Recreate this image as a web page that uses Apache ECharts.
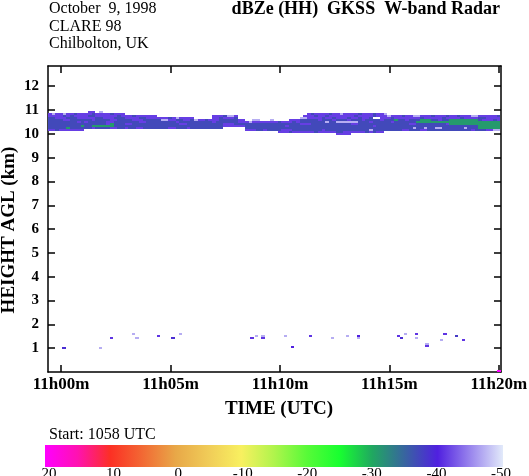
<!DOCTYPE html>
<html><head><meta charset="utf-8">
<script src="https://cdn.jsdelivr.net/npm/echarts@6/dist/echarts.min.js"></script>
<style>html,body{margin:0;padding:0;background:#fff}#c{width:529px;height:476px}</style>
</head><body><div id="c"></div>
<script>
// ---------- data ----------
const timeTicks = [0, 5, 10, 15, 20];                 // minutes after 11:00 UTC
const timeLabels = ['11h00m', '11h05m', '11h10m', '11h15m', '11h20m'];
const heightTicks = [1, 2, 3, 4, 5, 6, 7, 8, 9, 10, 11, 12];
const cbarTicks = [20, 10, 0, -10, -20, -30, -40, -50];
const cbarValues = [-50, -45, -40, -35, -30, -25, -20, -15, -10, -5, 0, 5, 10, 15, 20];
const cbarColors = ['#e2eafa', '#9985ed', '#5020e0', '#3864a0', '#20a860', '#18ff30', '#58fa38', '#b0f44c',
                    '#f8f060', '#f0cc58', '#e8a848', '#f26a34', '#fc3024', '#ff12b0', '#ff00ff'];

// cirrus band: one string per range gate (bottom to top), one char per 10-s profile
const bandStart = -0.6;     // minutes
const bandBase = 9.96;      // km
const profileStep = 1 / 6;  // minutes
const gateStep = 0.084;     // km
const codeValues = { s: -37, p: -41.5, l: -47, g: -31 };
const bandRows = [
  ".......... .......... .......... .......... .......... .......... .......... .........p ppp....... .......... .......... .......... ....",
  ".......... .......... .......... .......... .......... .......... ...pppsppp pppsppppps sppppppsps pp........ .......... .......... ....",
  "ppsppppppp .......... .......... .......... .......... ....pppssp sssspppsss ssssspssss ssssssssls ssssssspps ssppssssss sssssspsss ppll",
  "sssssgssss sspsssspps spssppssss sssppsssps ssssssss.. ....ssssss ssssssssss ssssssssss ssssssssss ssssssssss lsslssllss sssslsssgg gggg",
  "sssssssssg ssggggggss ssssssssss ssssssssss sssssssspp ppppssssss ssssspssss ssssssssss sssssssssp ssssssssss ssssssssss ssssssssgg gggg",
  "ssssssssss sssssspgss sppsssssss ssssssppss sssssssspp psssssssss sssssssssp ppssssssss sssppsssss sssssssssp pssssssssp gggggggggg gggg",
  "ssssssssps psssssppss sssssppsss ssssspssss ssssspssss ssppplpppp pppspppsps sssssslssl lllllsssps sssspsssss sggggggggg gggggggggg gggg",
  "ssssppssss sspsssspps ssspppssss sllppsspps lppspppsss sspp..ll.. .l....ppps sssspsssps sspssspsss spsssgssps ssgggsspss ggggggggsp ppsp",
  "sspppssspp pppsspppss sppppssppp pppsplpppp .....ppspp ps........ .........l lppppsppsp ppsppspps. .pppsppppp ppspppppsp pppsppppss pppp",
  "ppppspsppp psspppppps pppspppppp .......... .....pppsl lp........ .......... pppsppsppp ppppspppps ppplpppspp llpppsppps ppspppllpp ppps",
  "plpplppspp ppsppppspp p......... .......... .......... .......... .......... .psppppspp lppppsppps ppl....... .......... .......... ....",
  ".......... .pp.l..... .......... .......... .......... .......... .......... .......... .......... .......... .......... .......... ...."
];

// isolated low-level echoes
const lowT = [0.06, 1.72, 2.22, 3.23, 3.37, 4.37, 5.04, 5.37, 8.65, 8.84, 9.15, 9.15, 10.17, 10.49, 11.31, 12.32, 13.00, 13.50, 13.50, 15.33, 15.47, 15.65, 16.15, 16.15, 16.65, 16.65, 17.29, 17.47, 17.98, 18.30, 19.94];
const lowH = [0.96, 0.96, 1.40, 1.57, 1.40, 1.49, 1.40, 1.57, 1.40, 1.49, 1.49, 1.40, 1.49, 1.00, 1.49, 1.40, 1.49, 1.49, 1.40, 1.49, 1.40, 1.57, 1.57, 1.40, 1.15, 1.07, 1.32, 1.57, 1.49, 1.32, 0.00];
const lowV = [-39, -47, -41, -47, -47, -41, -39, -47, -41, -47, -47, -41, -47, -40, -41, -47, -47, -40, -47, -41, -39, -47, -41, -47, -47, -41, -47, -41, -38, -41, 20];

// ---------- build ----------
const cells = [];
bandRows.forEach((row, r) => {
  const s = row.replace(/ /g, '');
  for (let i = 0; i < s.length; i++) {
    const ch = s[i];
    if (ch !== '.') cells.push([bandStart + i * profileStep, bandBase + r * gateStep, codeValues[ch]]);
  }
});
lowT.forEach((t, k) => cells.push([t, lowH[k], lowV[k]]));

const FONT = "'Liberation Serif', 'DejaVu Serif', serif";
const X_MIN = -0.6, X_MAX = 20.1, Y_MAX = 12.85;
const V_MIN = -50, V_MAX = 20;

function renderItem(params, api) {
  const t = api.value(0), h = api.value(1);
  const a = api.coord([t, h + gateStep]);
  const b = api.coord([t + profileStep, h]);
  const x0 = Math.round(a[0]), y0 = Math.round(a[1]);
  const x1 = Math.round(b[0]), y1 = Math.round(b[1]);
  return { type: 'rect', shape: { x: x0, y: y0, width: x1 - x0, height: y1 - y0 },
           style: { fill: api.visual('color') } };
}

// colour bar: one rect spanning the value axis, filled with the colour scale
const cbarStops = cbarValues.map((v, k) => ({ offset: (V_MAX - v) / (V_MAX - V_MIN), color: cbarColors[k] }))
  .sort((a, b) => a.offset - b.offset);
function renderBar(params, api) {
  const a = api.coord([api.value(0), 1]);
  const b = api.coord([api.value(1), 0]);
  return { type: 'rect', shape: { x: a[0], y: a[1], width: b[0] - a[0], height: b[1] - a[1] },
           style: { fill: { type: 'linear', x: 0, y: 0, x2: 1, y2: 0, colorStops: cbarStops } } };
}

const axisLineStyle = { color: '#000', width: 1.5 };
const chart = echarts.init(document.getElementById('c'), null, { renderer: 'canvas' });
chart.setOption({
  animation: false,
  backgroundColor: '#fff',
  grid: [
    { left: 48, right: 28, top: 66, bottom: 104, outerBoundsMode: 'none', containLabel: false },
    { left: 49, right: 28, top: 445, height: 22, outerBoundsMode: 'none', containLabel: false },
    { left: 45, right: 26, top: 445, height: 22, outerBoundsMode: 'none', containLabel: false }
  ],
  xAxis: [
    { gridIndex: 0, type: 'value', min: X_MIN, max: X_MAX, position: 'bottom',
      axisLine: { onZero: false, lineStyle: axisLineStyle },
      axisTick: { inside: true, length: 7, customValues: timeTicks, lineStyle: axisLineStyle },
      axisLabel: { customValues: timeTicks, formatter: v => timeLabels[timeTicks.indexOf(v)],
                   color: '#000', fontFamily: FONT, fontWeight: 'bold', fontSize: 17, margin: 4 },
      splitLine: { show: false } },
    { gridIndex: 0, type: 'value', min: X_MIN, max: X_MAX, position: 'top',
      axisLine: { onZero: false, lineStyle: axisLineStyle },
      axisTick: { inside: true, length: 7, customValues: timeTicks, lineStyle: axisLineStyle },
      axisLabel: { show: false }, splitLine: { show: false } },
    { gridIndex: 1, type: 'value', min: V_MIN, max: V_MAX, inverse: true, interval: 10,
      axisLine: { show: false }, axisTick: { show: false },
      axisLabel: { color: '#000', fontFamily: FONT, fontSize: 15, margin: 0 },
      splitLine: { show: false } },
    { gridIndex: 2, type: 'value', min: V_MIN, max: V_MAX, inverse: true, show: false }
  ],
  yAxis: [
    { gridIndex: 0, type: 'value', min: 0, max: Y_MAX, position: 'left',
      axisLine: { onZero: false, lineStyle: axisLineStyle },
      axisTick: { inside: true, length: 7, customValues: heightTicks, lineStyle: axisLineStyle },
      axisLabel: { customValues: heightTicks, color: '#000', fontFamily: FONT, fontWeight: 'bold', fontSize: 15, margin: 9 },
      splitLine: { show: false } },
    { gridIndex: 0, type: 'value', min: 0, max: Y_MAX, position: 'right',
      axisLine: { onZero: false, lineStyle: axisLineStyle },
      axisTick: { inside: true, length: 7, customValues: heightTicks, lineStyle: axisLineStyle },
      axisLabel: { show: false }, splitLine: { show: false } },
    { gridIndex: 1, type: 'value', show: false },
    { gridIndex: 2, type: 'value', min: 0, max: 1, show: false }
  ],
  visualMap: {
    type: 'continuous', show: false, min: V_MIN, max: V_MAX, dimension: 2, seriesIndex: 0,
    inRange: { color: cbarColors }
  },
  graphic: [
    { type: 'text', x: 49, y: 9, style: { text: 'October  9, 1998', font: '16px ' + FONT, fill: '#000', verticalAlign: 'middle', textVerticalAlign: 'middle' } },
    { type: 'text', x: 49, y: 27, style: { text: 'CLARE 98', font: '16px ' + FONT, fill: '#000', verticalAlign: 'middle', textVerticalAlign: 'middle' } },
    { type: 'text', x: 49, y: 44, style: { text: 'Chilbolton, UK', font: '16px ' + FONT, fill: '#000', verticalAlign: 'middle', textVerticalAlign: 'middle' } },
    { type: 'text', x: 500, y: 9, style: { text: 'dBZe (HH)  GKSS  W-band Radar', font: 'bold 18px ' + FONT, fill: '#000', align: 'right', textAlign: 'right', verticalAlign: 'middle', textVerticalAlign: 'middle' } },
    { type: 'text', x: 49, y: 435, style: { text: 'Start: 1058 UTC', font: '16px ' + FONT, fill: '#000', verticalAlign: 'middle', textVerticalAlign: 'middle' } },
    { type: 'text', x: 279, y: 409, style: { text: 'TIME (UTC)', font: 'bold 19px ' + FONT, fill: '#000', align: 'center', textAlign: 'center', verticalAlign: 'middle', textVerticalAlign: 'middle' } },
    { type: 'text', x: 9, y: 230, rotation: Math.PI / 2, style: { text: 'HEIGHT AGL (km)', font: 'bold 19px ' + FONT, fill: '#000', align: 'center', textAlign: 'center', verticalAlign: 'middle', textVerticalAlign: 'middle' } }
  ],
  series: [
    { type: 'custom', xAxisIndex: 0, yAxisIndex: 0, renderItem: renderItem, clip: true,
      encode: { x: 0, y: 1 }, data: cells },
    { type: 'custom', xAxisIndex: 3, yAxisIndex: 3, renderItem: renderBar, silent: true,
      encode: { x: [0, 1] }, data: [[V_MAX, V_MIN]] }
  ]
});
</script></body></html>
